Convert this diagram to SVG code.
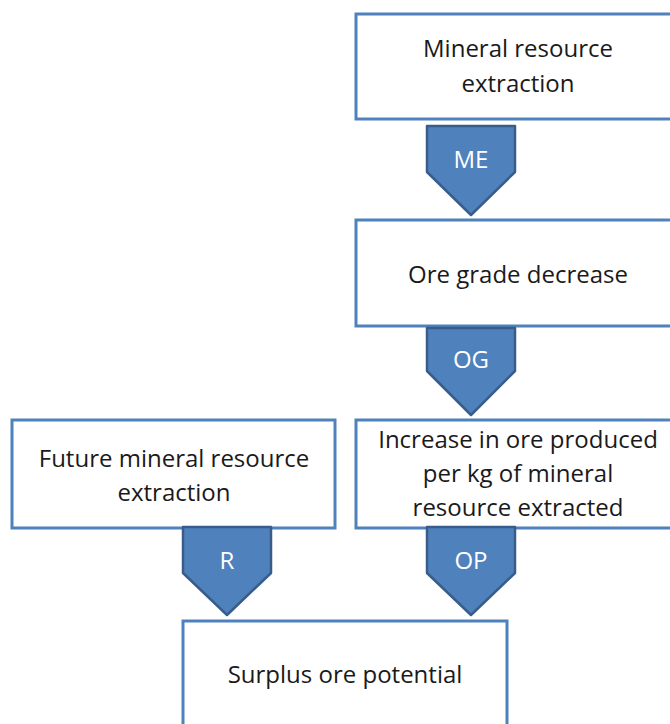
<svg xmlns="http://www.w3.org/2000/svg" width="670" height="724" viewBox="0 0 670 724">
<style>
.box{fill:#fff;stroke:#4f81bd;stroke-width:3}
.arr{fill:#4f81bd;stroke:#385d8a;stroke-width:2.5;stroke-linejoin:round}
.t{font-family:"Open Sans","Noto Sans",sans-serif;font-size:24px;fill:#1a1a1a;text-anchor:middle}
.a{font-family:"Open Sans","Noto Sans",sans-serif;font-size:24px;fill:#fff;text-anchor:middle}
</style>
<rect width="670" height="724" fill="#fff"/>
<g id="n1"><rect class="box" x="356" y="14" width="324" height="105"/>
<text class="t" x="518" y="57">Mineral resource</text><text class="t" x="518" y="92">extraction</text></g>
<g id="n2"><rect class="box" x="356" y="220" width="324" height="106"/>
<text class="t" x="518" y="283">Ore grade decrease</text></g>
<g id="n3"><rect class="box" x="356" y="420" width="324" height="108"/>
<text class="t" x="518" y="448">Increase in ore produced</text><text class="t" x="518" y="482">per kg of mineral</text><text class="t" x="518" y="516">resource extracted</text></g>
<g id="n4"><rect class="box" x="12" y="420" width="323" height="108"/>
<text class="t" x="174" y="467">Future mineral resource</text><text class="t" x="174" y="501">extraction</text></g>
<g id="n5"><rect class="box" x="183" y="621" width="324" height="120"/>
<text class="t" x="345" y="683">Surplus ore potential</text></g>
<g id="connectors">
<g id="c-ME"><path class="arr" d="M427 126H515V172L471 215L427 172Z"/><text class="a" x="471" y="168">ME</text></g>
<g id="c-OG"><path class="arr" d="M427 328H515V371L471 415L427 371Z"/><text class="a" x="471" y="368">OG</text></g>
<g id="c-R"><path class="arr" d="M183 527H271V573L227 615L183 573Z"/><text class="a" x="227" y="569">R</text></g>
<g id="c-OP"><path class="arr" d="M427 527H515V573L471 615L427 573Z"/><text class="a" x="471" y="569">OP</text></g>
</g>
</svg>
